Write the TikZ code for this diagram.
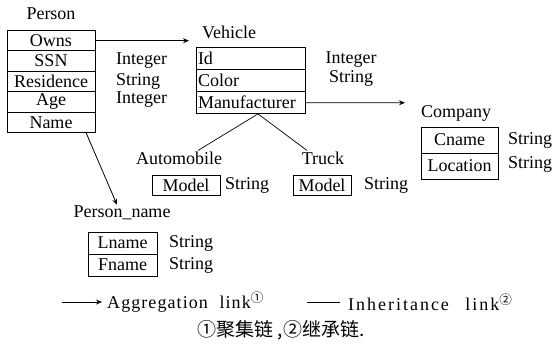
\documentclass[tikz,border=0pt]{standalone}
\usepackage{fontspec}
\setmainfont{Liberation Serif}
\newfontfamily\cjk{Noto Sans CJK SC}
\usetikzlibrary{positioning,arrows.meta,calc}

\begin{document}
\begin{tikzpicture}[x=1pt,y=-1pt,node distance=0pt,
    every node/.style={font=\fontsize{18}{20}\selectfont,inner sep=1pt},
    box/.style={draw,line width=0.9pt,outer sep=0pt,minimum height=#1},
    vbox/.style={box=22.3,text width=105pt,align=left,inner xsep=2pt},
    arr/.style={-{Stealth[length=6pt,width=5pt]},line width=0.8pt},
    inh/.style={line width=0.7pt}]
  \useasboundingbox (0,0) rectangle (557,345);
  % Person
  \node (pl) at (51,14) {Person};
  \node[box=20.4,minimum width=88] (p1) at (51,40.7) {Owns};
  \node[box=20.4,minimum width=88,below=of p1] (p2) {SSN};
  \node[box=20.4,minimum width=88,below=of p2] (p3) {Residence};
  \node[box=20.4,minimum width=88,below=of p3] (p4) {Age};
  \node[box=20.4,minimum width=88,below=of p4] (p5) {Name};
  \node[anchor=west] (pt2) at (115,61) {Integer};
  \node[anchor=west] (pt3) at (115,81) {String};
  \node[anchor=west] (pt4) at (115,100) {Integer};
  % Vehicle
  \node (vl) at (229,32) {Vehicle};
  \node[vbox] (v1) at (250.5,58.15) {Id};
  \node[vbox,below=of v1] (v2) {Color};
  \node[vbox,below=of v2] (v3) {Manufacturer};
  \node (vt1) at (351,60) {Integer};
  \node (vt2) at (351,78) {String};
  % Company
  \node (cl) at (456,113) {Company};
  \node[box=26,minimum width=77] (c1) at (459.5,140) {Cname};
  \node[box=26,minimum width=77,below=of c1] (c2) {Location};
  \node[anchor=west] (ct1) at (507,140) {String};
  \node[anchor=west] (ct2) at (507,164) {String};
  % Automobile, Truck
  \node (al) at (179,158) {Automobile};
  \node[box=20,minimum width=68] (m1) at (186,185) {Model};
  \node[anchor=west] (mt1) at (224,185) {String};
  \node (tl) at (323,158) {Truck};
  \node[box=20,minimum width=58] (m2) at (322,185) {Model};
  \node[anchor=west] (mt2) at (363,185) {String};
  % Person_name
  \node (nl) at (122,213) {Person\_name};
  \node[box=22,minimum width=69] (n1) at (122.5,243) {Lname};
  \node[box=22,minimum width=69,below=of n1] (n2) {Fname};
  \node[anchor=west] (nt1) at (168,243) {String};
  \node[anchor=west] (nt2) at (168,265) {String};
  % links
  \coordinate (va) at (189,40.7);
  \coordinate (ca) at (405,102.75);
  \draw[arr] (p1.east) -- (va);
  \draw[arr] (v3.east) -- (ca);
  \draw[arr] ($(p5.south east)+(-9,0)$) -- ($(nl.north)+(-5,0)$);
  \draw[inh] ($(v3.south)+(7.5,0)$) -- ($(al.north)+(19,0)$);
  \draw[inh] ($(v3.south)+(7.5,0)$) -- ($(tl.north)+(-16,0)$);
  % legend
  \coordinate (la) at (62,302);
  \coordinate (li) at (307,302);
  \node[anchor=west,inner xsep=5pt] (lagg) at (102,302)
    {\addfontfeatures{LetterSpace=6}Aggregation\hspace{6pt} link\textsuperscript{\cjk ①}};
  \node[anchor=west,inner xsep=8pt] (linh) at (340,302)
    {\addfontfeatures{LetterSpace=11}Inheritance\hspace{10pt} link\textsuperscript{\cjk ②}};
  \draw[arr] (la) -- (lagg.west);
  \draw[inh] (li) -- (linh.west);
  \node[font=\cjk\fontsize{19}{21}\selectfont] (note) at (281,330) {①聚集链 ,②继承链.};
\end{tikzpicture}
\end{document}
